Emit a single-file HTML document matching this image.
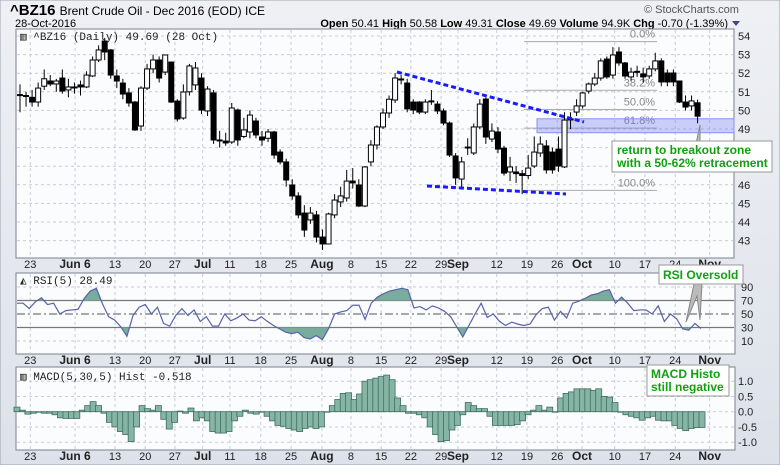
<!DOCTYPE html>
<html><head><meta charset="utf-8"><style>
body{margin:0;width:780px;height:465px;overflow:hidden;background:#e4e8ee;font-family:"Liberation Sans",sans-serif}
svg{display:block}
</style></head><body>
<svg id="c" width="780" height="465" xmlns="http://www.w3.org/2000/svg">
<defs>
<linearGradient id="bg" x1="0" y1="0" x2="0" y2="1"><stop offset="0" stop-color="#eef0f4"/><stop offset="1" stop-color="#dde2ea"/></linearGradient>
</defs>
<rect x="0" y="0" width="780" height="465" fill="url(#bg)" stroke="#9aa3b0"/>
<g>
<text x="10" y="15" font-size="15" font-weight="bold" fill="#000">^BZ16 <tspan font-size="12" font-weight="normal">Brent Crude Oil - Dec 2016 (EOD) ICE</tspan></text>
<text x="15" y="27" font-size="11" fill="#000">28-Oct-2016</text>
<text x="644" y="13" font-size="11" fill="#555">© StockCharts.com</text>
<text x="728" y="27" font-size="11" text-anchor="end" fill="#000"><tspan font-weight="bold">Open</tspan> 50.41 <tspan font-weight="bold">High</tspan> 50.58 <tspan font-weight="bold">Low</tspan> 49.31 <tspan font-weight="bold">Close</tspan> 49.69 <tspan font-weight="bold">Volume</tspan> 94.9K <tspan font-weight="bold">Chg</tspan> -0.70 (-1.39%)</text>
<path d="M732 21 L740 21 L736 26 Z" fill="#3a4a8a"/>
</g>
<rect x="16" y="29" width="718" height="229" fill="#fbfcfe" stroke="#7a8290"/>
<rect x="16" y="273" width="719" height="81" fill="#fbfcfe" stroke="#7a8290"/>
<rect x="16" y="367" width="719" height="83" fill="#fbfcfe" stroke="#7a8290"/>
<g id="grid"></g>
<g id="price"></g>
<g id="rsi"></g>
<g id="macd"></g>
<g id="labels"></g>
</svg>
<script>
const opens=[50.8,50.8,50.7,50.45,51.3,51.58,51.42,51.74,51.1,51.26,51.37,51.26,51.85,52.71,53.73,53.25,51.85,51.47,50.94,50.45,49.16,51.2,52.23,52.71,52.06,52.6,50.5,49.59,51.0,51.37,51.74,49.97,50.94,48.41,48.35,48.3,50.02,48.6,48.84,49.43,48.57,48.5,48.84,47.76,47.23,45.99,45.4,44.48,44.11,44.38,43.19,42.82,44.38,45.08,45.29,46.2,45.99,44.86,47.23,48.14,49.11,49.86,50.56,51.69,51.47,50.45,50.45,49.91,50.51,50.34,49.97,49.32,47.55,46.31,48.03,47.71,49.11,50.61,48.46,48.84,47.97,46.69,46.69,46.6,46.5,47.01,47.71,48.09,47.76,47.92,46.96,49.54,49.91,50.24,51.04,51.42,51.74,52.76,51.9,53.14,52.55,51.8,52.1,51.96,51.85,52.23,52.66,52.01,52.01,51.58,50.45,50.24,50.41];
const closes=[50.85,50.8,50.45,51.2,51.7,51.42,51.58,51.04,51.26,51.26,51.26,51.9,52.71,53.25,53.14,51.9,51.58,50.88,50.4,48.95,51.2,52.23,52.71,51.74,52.98,50.45,49.54,50.99,52.39,52.28,50.02,51.15,48.41,48.41,48.25,50.13,48.41,48.95,49.75,48.68,48.41,48.84,47.6,47.23,46.26,45.4,44.38,43.57,44.48,43.19,42.82,44.43,45.18,45.4,46.2,46.1,44.86,46.96,48.14,49.11,49.86,50.6,51.74,51.69,50.08,50.02,49.91,50.45,50.51,49.97,49.32,47.6,46.37,47.23,48.03,49.11,50.34,48.57,48.89,47.92,46.63,46.96,46.6,46.5,46.9,47.76,48.19,46.8,46.8,47.01,49.48,49.54,50.24,50.94,51.42,51.74,52.66,51.8,52.98,52.55,51.85,52.06,52.1,51.8,52.23,52.66,51.53,51.53,51.53,50.45,50.18,50.51,49.69];
const highs=[51.4,51.0,51.1,51.5,52.2,51.9,51.7,52.2,51.7,51.5,51.6,52.1,52.9,53.5,53.9,53.3,52.2,51.7,51.2,50.5,51.3,52.5,53.0,52.9,53.0,52.6,50.6,51.4,52.5,52.6,52.0,51.3,51.1,48.9,48.8,50.4,50.1,49.6,50.0,49.6,48.9,49.0,48.9,47.9,47.4,46.3,45.6,44.9,44.8,44.6,43.6,44.5,45.5,45.9,46.8,46.9,46.3,47.0,48.4,49.2,50.1,50.8,52.0,51.9,51.7,50.6,50.5,50.6,51.1,50.5,50.1,49.4,47.7,47.5,48.5,49.3,50.6,50.7,49.3,49.1,48.1,47.5,47.0,46.8,47.6,48.6,48.6,48.4,48.0,48.6,49.9,49.9,50.6,51.0,51.5,52.0,52.8,52.9,53.4,53.4,52.6,52.3,52.4,52.3,52.4,53.1,52.8,52.2,52.2,51.6,50.8,50.8,50.58];
const lows=[49.9,50.2,50.2,50.2,51.1,51.3,51.0,50.9,50.7,50.9,50.8,51.2,51.8,52.6,52.7,51.7,51.2,50.6,50.2,48.9,48.9,51.1,52.0,51.5,51.9,50.4,49.4,49.5,50.8,51.1,49.8,49.7,48.2,48.0,48.1,48.2,48.1,48.5,48.5,48.5,48.1,48.3,47.4,47.1,45.9,45.2,44.2,43.2,43.9,42.9,42.5,42.8,44.2,44.8,45.1,45.8,44.8,44.8,47.0,47.9,49.0,49.6,50.4,51.4,49.9,49.8,49.8,49.8,50.3,49.8,49.2,47.5,46.0,45.9,47.6,47.6,49.0,48.2,48.3,47.7,46.5,46.2,46.1,45.5,46.3,46.9,47.5,46.6,46.6,46.7,46.9,49.0,49.7,50.1,50.9,51.3,51.6,51.7,51.7,52.4,51.7,51.6,51.8,51.5,51.7,52.1,51.3,51.3,51.3,50.4,50.0,50.0,49.31];
const rsiVals=[66,66,58,68,74,64,66,50,55,56,57,73,84,88,65,46,41,31,17,48,60,64,50,60,36,32,48,58,48,56,39,46,32,32,50,40,44,50,41,40,46,39,33,28,23,21,23,15,13,18,12,28,50,53,55,63,63,42,66,75,80,84,86,88,86,59,61,56,62,59,54,46,31,16,33,50,66,45,50,39,33,38,35,33,35,49,58,60,41,54,44,66,69,73,78,80,84,86,66,75,66,55,56,56,50,62,39,50,43,28,26,36,28.5];
const macdVals=[0.15,0.05,-0.08,-0.05,0.0,-0.05,-0.05,-0.1,-0.2,-0.22,-0.22,-0.22,0.05,0.2,0.33,0.2,-0.05,-0.35,-0.5,-0.65,-0.75,-0.98,-0.5,0.2,0.1,0.05,0.2,-0.25,-0.57,-0.35,0.02,-0.05,0.12,-0.3,-0.2,-0.3,-0.65,-0.7,-0.7,-0.65,-0.3,-0.15,0.05,-0.05,-0.08,0.0,-0.15,-0.3,-0.45,-0.48,-0.55,-0.6,-0.65,-0.55,-0.5,-0.55,-0.5,0.0,0.2,0.4,0.6,0.62,0.4,0.58,1.0,1.05,1.1,1.15,1.2,1.05,0.45,0.2,-0.05,-0.05,-0.1,-0.2,-0.5,-0.75,-0.98,-0.95,-0.6,-0.45,-0.1,0.3,0.2,0.1,0.1,-0.15,-0.45,-0.45,-0.45,-0.45,-0.42,-0.3,-0.1,0.05,0.2,0.05,0.15,0.0,0.45,0.6,0.65,0.75,0.75,0.75,0.7,0.75,0.5,0.48,0.3,0.0,-0.1,-0.15,-0.2,-0.28,-0.2,-0.15,-0.28,-0.3,-0.3,-0.45,-0.55,-0.62,-0.55,-0.52,-0.518];
const dateLabels=["23","Jun 6","13","20","27","Jul","11","18","25","Aug","8","15","22","29","Sep","12","19","26","Oct","10","17","24","Nov"];
const dateBold=[false,true,false,false,false,true,false,false,false,true,false,false,false,false,true,false,false,false,true,false,false,false,true];
const dateIdx=[1.7,9.1,15.7,20.7,25.6,30.2,34.7,39.8,44.8,49.9,54.7,59.7,64.6,69.6,72.4,78.8,83.8,88.8,92.9,98.3,103.3,108.3,114];
const priceTicks=[43,44,45,46,47,48,49,50,51,52,53,54];
const rsiTicks=[10,30,50,70,90];
const macdTicks=[-1.0,-0.5,0.0,0.5,1.0];
const fibLevels=[53.7,51.08,50.05,49.05,45.7];
const fibLabels=["0.0%","38.2%","50.0%","61.8%","100.0%"];

const NS="http://www.w3.org/2000/svg";
function mk(tag,attrs,parent,text){const e=document.createElementNS(NS,tag);for(const k in attrs)e.setAttribute(k,attrs[k]);if(text!==undefined)e.textContent=text;parent.appendChild(e);return e;}
const xi=i=>20+i*6.05;
const py=p=>36+(54-p)*18.6;
const ry=v=>287+(90-v)*0.675;
const my=v=>411.7-v*30.5;
const G=document.getElementById('grid'),P=document.getElementById('price'),R=document.getElementById('rsi'),M=document.getElementById('macd'),L=document.getElementById('labels');

dateIdx.forEach((d,k)=>{
  const x=xi(d);
  if(x<733){
    [[30,257],[274,353],[368,449]].forEach(r=>{
      const l=mk('line',{x1:x,x2:x,y1:r[0],y2:r[1],stroke:'#c8ccd4','stroke-dasharray':'3,3'},G);
      
      
    });
  }
  [268,364,460].forEach(y=>{
    const t=mk('text',{x:x,y:y,'font-size':dateBold[k]?12:11,'font-weight':dateBold[k]?'bold':'normal','text-anchor':'middle',fill:'#222'},L,dateLabels[k]);
    
    
  });
});
priceTicks.forEach(p=>{
  const l=mk('line',{x1:17,x2:733,y1:py(p),y2:py(p),stroke:'#c8ccd4','stroke-dasharray':'3,3'},G);
  
  
  const t=mk('text',{x:738,y:py(p)+4,'font-size':11,fill:'#222'},L,String(p));
  
  
});
rsiTicks.forEach(v=>{
  const solid=(v===30||v===70),dash=v===50;
  const l=mk('line',{x1:17,x2:734,y1:ry(v),y2:ry(v),stroke:solid||dash?'#777':'#c8ccd4','stroke-width':solid||dash?1.2:1,'stroke-dasharray':dash?'8,3,2,3':(solid?'none':'3,3')},G);
  
  
  const t=mk('text',{x:741,y:ry(v)+4,'font-size':11,fill:'#222'},L,String(v));
  
  
});
macdTicks.forEach(v=>{
  const l=mk('line',{x1:17,x2:734,y1:my(v),y2:my(v),stroke:'#c8ccd4','stroke-dasharray':'3,3'},G);
  
  
  const t=mk('text',{x:738,y:my(v)+4,'font-size':11,fill:'#222'},L,v.toFixed(1));
  
  
});

fibLevels.forEach((f,k)=>{
  const l=mk('line',{x1:524,x2:657,y1:py(f),y2:py(f),stroke:'#aaa'},P);
  
  
  const t=mk('text',{x:655,y:py(f)-4,'font-size':11,'text-anchor':'end',fill:'#888'},P,fibLabels[k]);
  
  
});
const zone=mk('rect',{x:537,y:py(49.55),width:197,height:py(48.8)-py(49.55),fill:'rgba(110,120,240,0.35)',stroke:'#8a90f0'},P);



opens.forEach((o,i)=>{
  const c=closes[i],x=xi(i),up=c>=o;
  const w=mk('line',{x1:x,x2:x,y1:py(highs[i]),y2:py(lows[i]),stroke:'#000'},P);
  
  
  const top=py(Math.max(o,c)),h=Math.max(1,py(Math.min(o,c))-top);
  const b=mk('rect',{x:x-2.5,y:top,width:5,height:h,fill:up?'#fff':'#000',stroke:'#000','stroke-width':1},P);
  
  
});
const t1=mk('line',{x1:397,y1:72,x2:584,y2:122,stroke:'#1a1aff','stroke-width':3,'stroke-dasharray':'5,3'},P);


const t2=mk('line',{x1:427,y1:186,x2:566,y2:194,stroke:'#1a1aff','stroke-width':3,'stroke-dasharray':'5,3'},P);



const rx=i=>17+i*(684/(rsiVals.length-1));
const pts=rsiVals.map((v,i)=>rx(i)+','+ry(v)).join(' ');
const defs=mk('defs',{},R);
const ca=mk('clipPath',{id:'above'},defs);mk('rect',{x:16,y:270,width:720,height:ry(70)-270},ca);
const cb=mk('clipPath',{id:'below'},defs);mk('rect',{x:16,y:ry(30),width:720,height:360-ry(30)},cb);
const fa=mk('polygon',{points:rx(0)+','+ry(70)+' '+pts+' '+rx(rsiVals.length-1)+','+ry(70),fill:'#78ac9c',stroke:'none','clip-path':'url(#above)'},R);


const fb=mk('polygon',{points:rx(0)+','+ry(30)+' '+pts+' '+rx(rsiVals.length-1)+','+ry(30),fill:'#78ac9c',stroke:'none','clip-path':'url(#below)'},R);


const rl=mk('polyline',{points:pts,fill:'none',stroke:'#5a62a8','stroke-width':1.2},R);



const mx=i=>17+i*(685/(macdVals.length-1));
macdVals.forEach((v,i)=>{
  const y0=my(0),y1=my(v);
  const b=mk('rect',{x:mx(i)-3,y:Math.min(y0,y1),width:6,height:Math.max(0.5,Math.abs(y1-y0)),fill:'#86b5a5',stroke:'#3d6e5e','stroke-width':0.8},M);
  
  
});
</script>
<svg style="position:absolute;left:0;top:0" width="780" height="465" xmlns="http://www.w3.org/2000/svg">
<g font-family="Liberation Sans, sans-serif">
<text x="20" y="40" font-family="Liberation Mono, monospace" font-size="11" fill="#222">▥ ^BZ16 (Daily) 49.69 (28 Oct)</text>
<text x="20" y="284" font-family="Liberation Mono, monospace" font-size="11" fill="#222">◭ RSI(5) 28.49</text>
<text x="20" y="380" font-family="Liberation Mono, monospace" font-size="11" fill="#222">▥ MACD(5,30,5) Hist -0.518</text>
<polygon points="690,172 700,172 700,125" fill="#bbb" stroke="#888"/>
<rect x="612" y="141" width="160" height="31" fill="#fff" stroke="#999"/>
<text x="617" y="154" font-size="12" font-weight="bold" fill="#10a010">return to breakout zone</text>
<text x="617" y="167" font-size="12" font-weight="bold" fill="#10a010">with a 50-62% retracement</text>
<polyline points="694,284 686,322 697,296 700,320 702,284" fill="#bbb" stroke="#888"/>
<rect x="659" y="265" width="84" height="19" fill="#fff" stroke="#999"/>
<text x="663" y="279" font-size="12" font-weight="bold" fill="#10a010">RSI Oversold</text>
<rect x="647" y="365" width="82" height="31" fill="#fff" stroke="#999"/>
<text x="651" y="378" font-size="12" font-weight="bold" fill="#10a010">MACD Histo</text>
<text x="651" y="391" font-size="12" font-weight="bold" fill="#10a010">still negative</text>
</g>
</svg>
</body></html>
